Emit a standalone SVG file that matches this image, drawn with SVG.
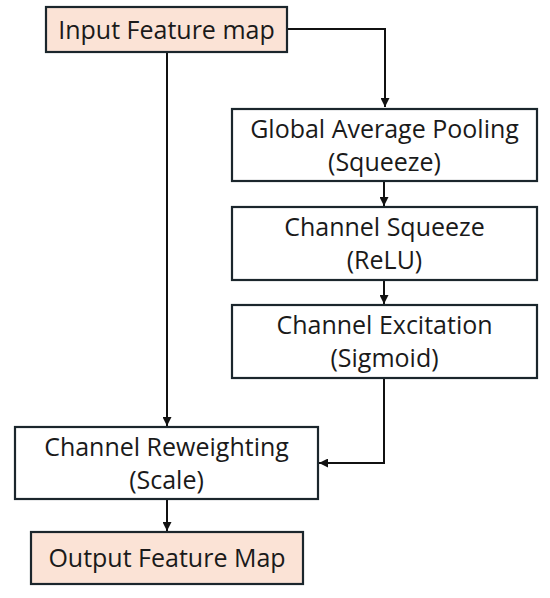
<svg xmlns="http://www.w3.org/2000/svg" width="550" height="598" viewBox="0 0 550 598">
<defs>
<marker id="arr" viewBox="0 0 10 10" refX="10" refY="5" markerWidth="4.5" markerHeight="4.5" orient="auto" markerUnits="strokeWidth">
<path d="M0,0 L10,5 L0,10 Z" fill="#111"/>
</marker>
<style>
.box{fill:#ffffff;stroke:#1b262c;stroke-width:2.2}
.io{fill:#fbe3d6;stroke:#1b262c;stroke-width:2.2}
.t{font-family:"Open Sans","Liberation Sans",sans-serif;font-size:25px;fill:#1a1a1a;text-anchor:middle}
.c{fill:none;stroke:#111;stroke-width:2}
</style>
</defs>
<rect width="550" height="598" fill="#ffffff"/>
<g id="connectors">
<path class="c" d="M287,29 H385 V107" marker-end="url(#arr)"/>
<path class="c" d="M167,52 V426" marker-end="url(#arr)"/>
<path class="c" d="M384,181 V206" marker-end="url(#arr)"/>
<path class="c" d="M384,280 V304" marker-end="url(#arr)"/>
<path class="c" d="M384,378 V463 H319" marker-end="url(#arr)"/>
<path class="c" d="M167,499 V531" marker-end="url(#arr)"/>
</g>
<g id="input">
<rect class="io" x="46" y="7" width="241" height="45"/>
<text class="t" x="166.5" y="39">Input Feature map</text>
</g>
<g id="gap">
<rect class="box" x="232" y="109" width="305" height="72"/>
<text class="t" x="384.5" y="138">Global Average Pooling</text>
<text class="t" x="384.5" y="171">(Squeeze)</text>
</g>
<g id="squeeze">
<rect class="box" x="232" y="207" width="305" height="73"/>
<text class="t" x="384.5" y="236">Channel Squeeze</text>
<text class="t" x="384.5" y="269">(ReLU)</text>
</g>
<g id="excitation">
<rect class="box" x="232" y="305" width="305" height="73"/>
<text class="t" x="384.5" y="334">Channel Excitation</text>
<text class="t" x="384.5" y="367">(Sigmoid)</text>
</g>
<g id="reweight">
<rect class="box" x="15" y="427" width="303" height="72"/>
<text class="t" x="166.5" y="456">Channel Reweighting</text>
<text class="t" x="166.5" y="489">(Scale)</text>
</g>
<g id="output">
<rect class="io" x="31" y="532" width="272" height="52"/>
<text class="t" x="167" y="567">Output Feature Map</text>
</g>
</svg>
